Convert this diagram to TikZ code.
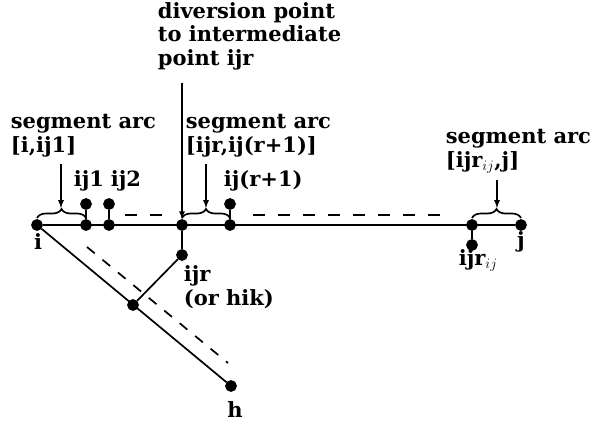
\documentclass[tikz,border=0pt]{standalone}
\usepackage{fontspec}
\setmainfont{DejaVu Serif}
\usetikzlibrary{decorations.pathreplacing,arrows}

\begin{document}
\begin{tikzpicture}[x=1pt,y=-1pt,line width=1.7pt,>=latex,
  pt/.style={inner sep=0pt,minimum size=10pt,circle,draw,fill=black},
  txt/.style={inner sep=0pt,align=left,font=\fontsize{21}{23.5}\selectfont\bfseries},
  brc/.style={decorate,decoration={brace,amplitude=9pt}}]
\useasboundingbox (0,0) rectangle (595,423);

% points on the arc [i,j]
\node[pt] (i) at (37,225) {};
\node[pt] (ij1) at (86,225) {};
\node[pt] (ij1t) at (86,204) {};
\node[pt] (ij2) at (109,225) {};
\node[pt] (ij2t) at (109,204) {};
\node[pt] (d) at (182,225) {};
\node[pt] (ijrr) at (230,225) {};
\node[pt] (ijrrt) at (230,204) {};
\node[pt] (ijrij) at (472,225) {};
\node[pt] (ijrijb) at (472,245) {};
\node[pt] (j) at (521,225) {};

% detour
\node[pt] (ijr) at (182,255) {};
\node[pt] (m) at (133,305) {};
\node[pt] (h) at (231,386) {};

\draw (i) -- (j);
\draw (ij1) -- (ij1t);
\draw (ij2) -- (ij2t);
\draw (ijrr) -- (ijrrt);
\draw (ijrij) -- (ijrijb);
\draw (d) -- (ijr);
\draw (ijr) -- (m);
\draw (i) -- (h);

% dashed lines
\coordinate (da) at (125,215);
\coordinate (db) at (168,215);
\coordinate (dc) at (253,215);
\coordinate (dd) at (450,215);
\coordinate (de) at (87,247);
\coordinate (df) at (228,363);
\draw[dash pattern=on 12pt off 13pt] (da) -- (db);
\draw[dash pattern=on 12pt off 13pt] (dc) -- (dd);
\draw[dash pattern=on 10pt off 10pt] (de) -- (df);

% braces
\draw[brc] (37,218) -- (86,218);
\draw[brc] (182,218) -- (230,218);
\draw[brc] (472,218) -- (521,218);
\coordinate (t1) at (61,208);
\coordinate (t2) at (206,208);
\coordinate (t3) at (497,208);

% labels
\node[txt,anchor=base west] (s1) at (10,152) {segment arc\\{[i,ij1]}};
\node[txt,anchor=base west] (div) at (157,65) {diversion point\\to intermediate\\point ijr};
\node[txt,anchor=base west] (s2) at (185,152) {segment arc\\{[ijr,ij(r+1)]}};
\node[txt,anchor=base west] (s3) at (445,167) {segment arc\\{[ijr$_{ij}$,j]}};
\node[txt,anchor=base west] (l1) at (73,186) {ij1};
\node[txt,anchor=base west] (l2) at (110,186) {ij2};
\node[txt,anchor=base west] (l3) at (223,186) {ij(r+1)};
\node[txt,anchor=base] (li) at (38,249) {i};
\node[txt,anchor=base] (lj) at (521,247) {j};
\node[txt,anchor=base west] (l4) at (458,265) {ijr$_{ij}$};
\node[txt,anchor=base west] (l5) at (183,305) {ijr\\(or hik)};
\node[txt,anchor=base] (lh) at (235,417) {h};

% arrows
\draw[->] (s1.south -| t1) ++(0,6) -- (t1);
\draw[->] (s2.south -| t2) ++(0,6) -- (t2);
\draw[->] (s3.south -| t3) ++(0,6) -- (t3);
\draw[->] (div.south -| d) ++(0,12) -- (d);
\end{tikzpicture}
\end{document}
